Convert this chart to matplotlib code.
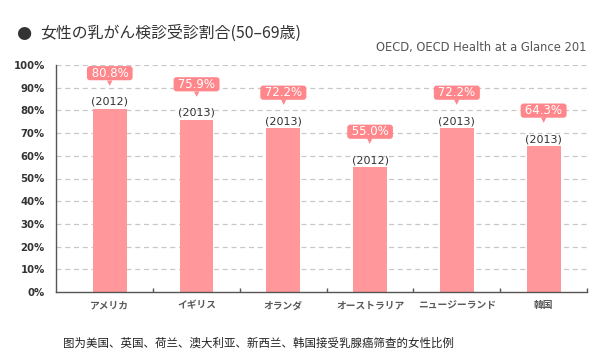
import matplotlib
matplotlib.use("Agg")
import matplotlib.pyplot as plt
import numpy as np

plt.rcParams['font.family'] = ['Noto Sans CJK JP', 'DejaVu Sans']

categories = ["アメリカ", "イギリス", "オランダ", "オーストラリア", "ニュージーランド", "韓国"]
values = [80.8, 75.9, 72.2, 55.0, 72.2, 64.3]
years = [2012, 2013, 2013, 2012, 2013, 2013]
yticks = [0, 10, 20, 30, 40, 50, 60, 70, 80, 90, 100]

title = "女性の乳がん検診受診割合(50–69歳)"
source = "OECD, OECD Health at a Glance 201"
caption = "图为美国、英国、荷兰、澳大利亚、新西兰、韩国接受乳腺癌筛查的女性比例"

bar_color = "#ff979b"
box_color = "#ff878b"

fig = plt.figure(figsize=(5.97, 3.57), dpi=100)
ax = fig.add_axes([56/597, 65/357, (587-56)/597, (292-65)/357])

x = np.arange(len(categories))
ax.bar(x, values, width=0.39, color=bar_color, zorder=3)

ax.set_xlim(-0.62, 5.5)
ax.set_ylim(0, 100)

for yt in yticks[1:]:
    ax.axhline(yt, color="#c8c8c8", lw=0.9, ls=(0, (4, 3)), zorder=1)

ax.set_yticks(yticks)
ax.set_yticklabels([f"{t}%" for t in yticks], family="DejaVu Sans",
                   fontweight="bold", fontsize=7.3, color="#333333")
ax.tick_params(axis="y", length=0, pad=8)

ax.set_xticks(x)
ax.set_xticklabels(categories, fontsize=7, fontweight="bold", color="#5a5a5a")
ax.set_xticks(np.arange(len(categories)) + 0.5, minor=True)
ax.tick_params(axis="x", which="major", length=0, pad=6)
ax.tick_params(axis="x", which="minor", direction="in", length=3, width=1, color="#555555")

for s in ["top", "right"]:
    ax.spines[s].set_visible(False)
for s in ["left", "bottom"]:
    ax.spines[s].set_color("#555555")
    ax.spines[s].set_linewidth(1.0)
    ax.spines[s].set_zorder(4)

for xi, v, yr in zip(x, values, years):
    ax.annotate(f"({yr})", (xi, v), xytext=(0, 5), textcoords="offset points",
                ha="center", va="center", fontsize=8, color="#333333",
                family="DejaVu Sans", zorder=5)
    ax.annotate(f" {v:.1f}% ", (xi, v), xytext=(0, 25.5), textcoords="offset points",
                ha="center", va="center", fontsize=8.5, color="white",
                family="DejaVu Sans", zorder=6,
                bbox=dict(boxstyle="round,pad=0.05,rounding_size=0.25",
                          fc=box_color, ec="none"))
    ax.annotate("▼", (xi, v), xytext=(0, 18.5), textcoords="offset points",
                ha="center", va="center", fontsize=5, color=box_color,
                family="DejaVu Sans", zorder=6)

fig.text(16/597, 1 - 33/357, "●", fontsize=12.5, color="#333333", va="center",
         ha="left", family="DejaVu Sans")
fig.text(40/597, 1 - 33/357, title, fontsize=11.4, color="#333333", va="center", ha="left")
fig.text(586/597, 1 - 48/357, source, fontsize=8.3, color="#555555", va="center",
         ha="right", family="DejaVu Sans")
fig.text(63/597, 1 - 343/357, caption, fontsize=8.25, color="#222222", va="center",
         ha="left", family=["Noto Sans CJK SC", "DejaVu Sans"])

fig.savefig("out.png", dpi=100)
